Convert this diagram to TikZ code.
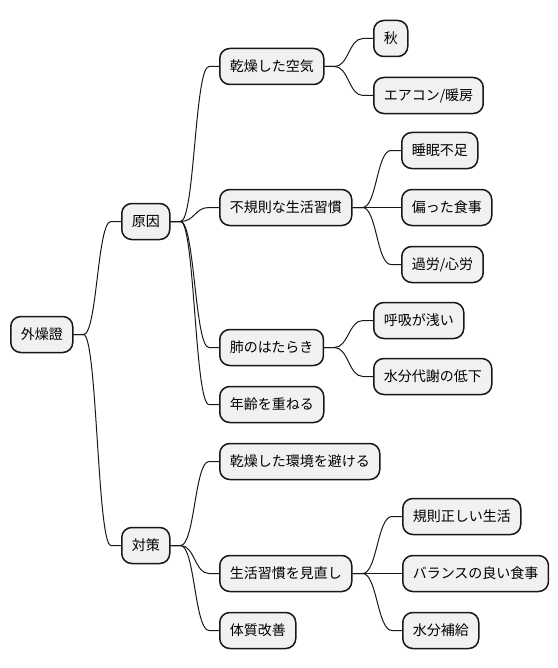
\documentclass[tikz,border=0pt]{standalone}
\usepackage{fontspec}
\newfontfamily\jp{Noto Sans CJK JP}
\usetikzlibrary{calc}
\definecolor{boxfill}{HTML}{F1F1F1}
\definecolor{boxline}{HTML}{181818}
\tikzset{
  mm/.style={draw=boxline, fill=boxfill, line width=1.5bp, rounded corners=10bp,
    inner xsep=10bp, inner ysep=0pt, minimum height=36bp, anchor=west,
    font=\jp\fontsize{14bp}{16bp}\selectfont, text=black},
  edge/.style={draw=boxline, line width=1bp}
}
\newcommand{\mmconn}[2]{%
  \draw[edge] let \p1=(#1.east), \p2=(#2.west) in
    (\p1) -- (\x1+10bp,\y1) .. controls ({(\x1+\x2)/2},\y1) and ({(\x1+\x2)/2},\y2) .. (\x2-10bp,\y2) -- (\p2);}
\begin{document}
\begin{tikzpicture}[x=1bp,y=-1bp]
\useasboundingbox (0,0) rectangle (558,668);
\node[mm] (root) at (10,334.5) {外燥證};
\node[mm] (gen) at (121,221.5) {原因};
\node[mm] (tai) at (121,545.5) {対策};
\node[mm] (kan) at (219,66.5) {乾燥した空気};
\node[mm] (fuki) at (219,207.5) {不規則な生活習慣};
\node[mm] (hai) at (219,347.5) {肺のはたらき};
\node[mm] (nen) at (219,404.5) {年齢を重ねる};
\node[mm] (sake) at (219,461.5) {乾燥した環境を避ける};
\node[mm] (mina) at (219,573.5) {生活習慣を見直し};
\node[mm] (tais) at (219,630.5) {体質改善};
\node[mm] (aki) at (373,38.5) {秋};
\node[mm] (aircon) at (373,95.5) {エアコン/暖房};
\node[mm] (sui) at (401,150.5) {睡眠不足};
\node[mm] (hen) at (401,207.5) {偏った食事};
\node[mm] (karo) at (401,264.5) {過労/心労};
\node[mm] (koki) at (373,320.5) {呼吸が浅い};
\node[mm] (tais2) at (373,376.5) {水分代謝の低下};
\node[mm] (kisoku) at (402,516.5) {規則正しい生活};
\node[mm] (bal) at (402,573.5) {バランスの良い食事};
\node[mm] (hoky) at (402,630.5) {水分補給};
\mmconn{root}{gen}
\mmconn{root}{tai}
\mmconn{gen}{kan}
\mmconn{gen}{fuki}
\mmconn{gen}{hai}
\mmconn{gen}{nen}
\mmconn{tai}{sake}
\mmconn{tai}{mina}
\mmconn{tai}{tais}
\mmconn{kan}{aki}
\mmconn{kan}{aircon}
\mmconn{fuki}{sui}
\mmconn{fuki}{hen}
\mmconn{fuki}{karo}
\mmconn{hai}{koki}
\mmconn{hai}{tais2}
\mmconn{mina}{kisoku}
\mmconn{mina}{bal}
\mmconn{mina}{hoky}
\end{tikzpicture}
\end{document}
